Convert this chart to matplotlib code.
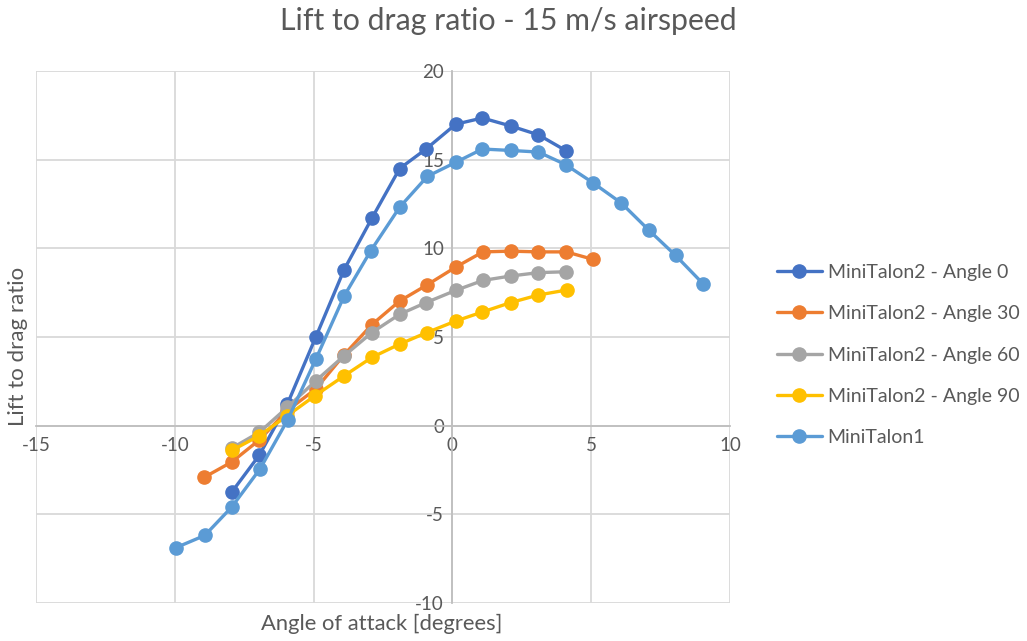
import matplotlib.pyplot as plt

plt.rcParams['font.family'] = ['Lato', 'DejaVu Sans']
plt.rcParams['axes.unicode_minus'] = False

# MiniTalon2 measurements (angle of attack, L/D)
x_a0 = [-7.95, -6.95, -5.95, -4.92, -3.9, -2.9, -1.9, -0.95, 0.12, 1.08, 2.1, 3.1, 4.1]
y_a0 = [-3.75, -1.65, 1.2, 5.0, 8.8, 11.7, 14.5, 15.6, 17.0, 17.35, 16.9, 16.4, 15.5]

x_a30 = [-8.95, -7.95, -6.95, -5.95, -4.92, -3.9, -2.9, -1.9, -0.92, 0.12, 1.1, 2.1, 3.1, 4.1, 5.06]
y_a30 = [-2.92, -2.05, -0.8, 0.85, 2.07, 4.0, 5.7, 7.03, 7.93, 8.94, 9.8, 9.84, 9.8, 9.8, 9.38]

x_a60 = [-7.95, -6.95, -5.95, -4.92, -3.9, -2.9, -1.9, -0.95, 0.12, 1.1, 2.1, 3.1, 4.1]
y_a60 = [-1.27, -0.37, 1.03, 2.53, 3.94, 5.25, 6.28, 6.94, 7.63, 8.19, 8.44, 8.63, 8.68]

x_a90 = [-7.95, -6.95, -5.95, -4.95, -3.9, -2.9, -1.9, -0.92, 0.12, 1.08, 2.1, 3.1, 4.12]
y_a90 = [-1.4, -0.56, 0.56, 1.69, 2.81, 3.85, 4.6, 5.25, 5.9, 6.41, 6.94, 7.37, 7.65]

# MiniTalon1
x_mt1 = [-9.96, -8.92, -7.95, -6.93, -5.93, -4.92, -3.9, -2.95, -1.9, -0.9, 0.12,
         1.08, 2.1, 3.1, 4.08, 5.07, 6.08, 7.08, 8.04, 9.03]
y_mt1 = [-6.88, -6.19, -4.59, -2.44, 0.34, 3.75, 7.31, 9.84, 12.32, 14.06, 14.85,
         15.6, 15.52, 15.43, 14.72, 13.69, 12.56, 11.02, 9.6, 8.0]

series = [
    ("MiniTalon2 - Angle 0", x_a0, y_a0, "#4472C4"),
    ("MiniTalon2 - Angle 30", x_a30, y_a30, "#ED7D31"),
    ("MiniTalon2 - Angle 60", x_a60, y_a60, "#A5A5A5"),
    ("MiniTalon2 - Angle 90", x_a90, y_a90, "#FFC000"),
    ("MiniTalon1", x_mt1, y_mt1, "#5B9BD5"),
]

txt = "#595959"
fig = plt.figure(figsize=(10.27, 6.41), dpi=100)
ax = fig.add_axes([36 / 1027, 1 - 603 / 641, 694 / 1027, 532 / 641])

for name, xs, ys, c in series:
    ax.plot(xs, ys, color=c, lw=2.4, marker="o", ms=9.5, label=name,
            solid_capstyle="round", zorder=3)

ax.set_xlim(-15, 10)
ax.set_ylim(-10, 20)
ax.set_xticks(range(-15, 11, 5))
ax.set_yticks(range(-10, 21, 5))
ax.grid(True, color="#d9d9d9", lw=1.3, zorder=0)
ax.set_axisbelow(True)

for s in ["top", "right"]:
    ax.spines[s].set_visible(False)
ax.spines["left"].set_position(("data", 0))
ax.spines["bottom"].set_position(("data", 0))
ax.spines["left"].set_color("#bfbfbf")
ax.spines["bottom"].set_color("#bfbfbf")
ax.spines["left"].set_linewidth(1.3)
ax.spines["bottom"].set_linewidth(1.3)
ax.tick_params(length=0, labelsize=13.5, labelcolor=txt, pad=6)
ax.tick_params(axis="x", pad=8)

# x/y axis titles placed at plot edges
fig.text(382 / 1027, 1 - 624 / 641, "Angle of attack [degrees]", ha="center",
         va="center", fontsize=15.8, color=txt)
fig.text(18 / 1027, 1 - 346 / 641, "Lift to drag ratio", ha="center",
         va="center", rotation=90, fontsize=16, color=txt)
fig.text(508 / 1027, 1 - 21 / 641, "Lift to drag ratio - 15 m/s airspeed",
         ha="center", va="center", fontsize=21.8, color=txt)

ax.legend(loc="center left", bbox_to_anchor=(777 / 1027, 1 - 355 / 641),
          bbox_transform=fig.transFigure, borderaxespad=0, borderpad=0,
          frameon=False, fontsize=14, labelcolor=txt, handlelength=2.3,
          labelspacing=1.25, handletextpad=0.3)

fig.savefig("out.png", dpi=100)
